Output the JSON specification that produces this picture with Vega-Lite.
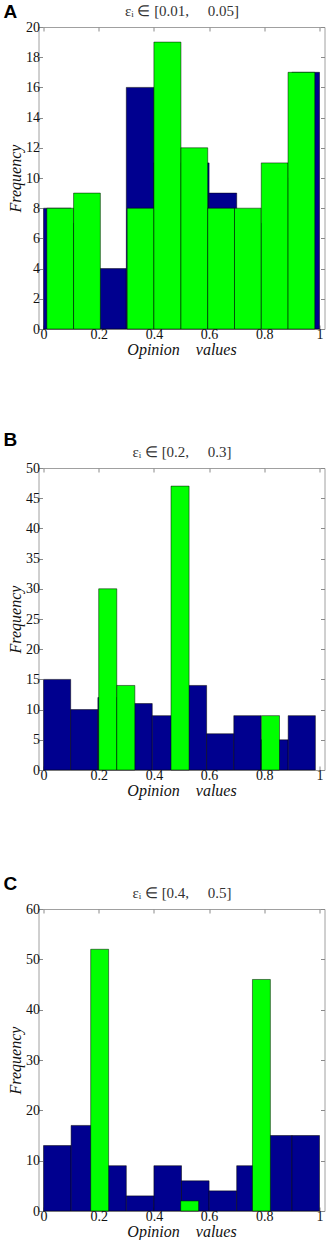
{
  "$schema": "https://vega.github.io/schema/vega-lite/v6.json",
  "background": "white",
  "padding": {"left": 2.5, "top": 2, "right": 0, "bottom": 0},
  "bounds": "flush",
  "spacing": 139,
  "config": {
    "view": {"stroke": "#a0a0a0", "strokeWidth": 1},
    "font": "Liberation Serif",
    "axis": {
      "domain": false, "grid": false,
      "tickSize": -4, "tickColor": "#8a8a8a", "tickWidth": 1,
      "labelFont": "Liberation Serif", "labelFontSize": 14, "labelColor": "#111",
      "labelPadding": 3,
      "titleFont": "Liberation Serif", "titleFontStyle": "italic", "titleFontWeight": "normal",
      "titleFontSize": 16, "titleColor": "#111"
    },
    "title": {"font": "Liberation Sans", "fontSize": 19, "fontWeight": "bold", "color": "#000", "anchor": "start", "frame": "bounds"}
  },
  "datasets": {
    "blueA": [
      {"x0": 0.0, "x1": 0.1, "count": 8}, {"x0": 0.1, "x1": 0.2, "count": 7},
      {"x0": 0.2, "x1": 0.3, "count": 4}, {"x0": 0.3, "x1": 0.4, "count": 16},
      {"x0": 0.4, "x1": 0.5, "count": 11}, {"x0": 0.5, "x1": 0.6, "count": 11},
      {"x0": 0.6, "x1": 0.7, "count": 9}, {"x0": 0.7, "x1": 0.8, "count": 7},
      {"x0": 0.8, "x1": 0.9, "count": 10}, {"x0": 0.9, "x1": 1.0, "count": 17}
    ],
    "greenA": [
      {"x0": 0.012, "x1": 0.109, "count": 8}, {"x0": 0.109, "x1": 0.206, "count": 9},
      {"x0": 0.303, "x1": 0.4, "count": 8}, {"x0": 0.4, "x1": 0.498, "count": 19},
      {"x0": 0.498, "x1": 0.595, "count": 12}, {"x0": 0.595, "x1": 0.692, "count": 8},
      {"x0": 0.692, "x1": 0.789, "count": 8}, {"x0": 0.789, "x1": 0.886, "count": 11},
      {"x0": 0.886, "x1": 0.983, "count": 17}
    ],
    "blueB": [
      {"x0": 0.0, "x1": 0.0985, "count": 15}, {"x0": 0.0985, "x1": 0.197, "count": 10},
      {"x0": 0.197, "x1": 0.2955, "count": 12}, {"x0": 0.2955, "x1": 0.394, "count": 11},
      {"x0": 0.394, "x1": 0.4925, "count": 9}, {"x0": 0.4925, "x1": 0.591, "count": 14},
      {"x0": 0.591, "x1": 0.6895, "count": 6}, {"x0": 0.6895, "x1": 0.788, "count": 9},
      {"x0": 0.788, "x1": 0.8865, "count": 5}, {"x0": 0.8865, "x1": 0.985, "count": 9}
    ],
    "greenB": [
      {"x0": 0.2, "x1": 0.2655, "count": 30}, {"x0": 0.2655, "x1": 0.331, "count": 14},
      {"x0": 0.462, "x1": 0.5275, "count": 47}, {"x0": 0.7895, "x1": 0.855, "count": 9}
    ],
    "blueC": [
      {"x0": 0.0, "x1": 0.1, "count": 13}, {"x0": 0.1, "x1": 0.2, "count": 17},
      {"x0": 0.2, "x1": 0.3, "count": 9}, {"x0": 0.3, "x1": 0.4, "count": 3},
      {"x0": 0.4, "x1": 0.5, "count": 9}, {"x0": 0.5, "x1": 0.6, "count": 6},
      {"x0": 0.6, "x1": 0.7, "count": 4}, {"x0": 0.7, "x1": 0.8, "count": 9},
      {"x0": 0.8, "x1": 0.9, "count": 15}, {"x0": 0.9, "x1": 1.0, "count": 15}
    ],
    "greenC": [
      {"x0": 0.171, "x1": 0.236, "count": 52}, {"x0": 0.497, "x1": 0.562, "count": 2},
      {"x0": 0.757, "x1": 0.822, "count": 46}
    ]
  },
  "vconcat": [
    {
      "width": 286, "height": 302,
      "title": {"text": "A", "dy": 23, "dx": -4},
      "layer": [
        {
          "data": {"name": "blueA"},
          "mark": {"type": "bar", "orient": "vertical", "fill": "#00008f", "stroke": "#000000", "strokeWidth": 0.5},
          "encoding": {
            "x": {"field": "x0", "type": "quantitative", "scale": {"domain": [0, 1], "nice": false, "zero": false},
                  "axis": {"orient": "bottom", "values": [0, 0.2, 0.4, 0.6, 0.8, 1], "format": "~g", "labelPadding": 2, "title": "Opinion\u00a0\u00a0\u00a0\u00a0values", "titlePadding": 0}},
            "x2": {"field": "x1"},
            "y": {"field": "count", "type": "quantitative", "scale": {"domain": [0, 20], "nice": false},
                  "axis": {"orient": "left", "values": [0, 2, 4, 6, 8, 10, 12, 14, 16, 18, 20], "title": "Frequency", "titlePadding": 2}},
            "y2": {"datum": 0}
          }
        },
        {
          "data": {"name": "greenA"},
          "mark": {"type": "bar", "orient": "vertical", "fill": "#00ff00", "stroke": "#000000", "strokeWidth": 0.5},
          "encoding": {
            "x": {"field": "x0", "type": "quantitative",
                  "axis": {"orient": "top", "labels": false, "values": [0, 0.2, 0.4, 0.6, 0.8, 1], "title": "εᵢ ∈ [0.01,\u00a0\u00a0\u00a0\u00a0\u00a00.05]", "titleFontStyle": "normal", "titleFontSize": 15, "titleColor": "#333", "titlePadding": 8.5}},
            "x2": {"field": "x1"},
            "y": {"field": "count", "type": "quantitative",
                  "axis": {"orient": "right", "labels": false, "values": [0, 2, 4, 6, 8, 10, 12, 14, 16, 18, 20], "title": null}},
            "y2": {"datum": 0}
          }
        }
      ],
      "resolve": {"axis": {"x": "independent", "y": "independent"}}
    },
    {
      "width": 286, "height": 302,
      "title": {"text": "B", "dy": 10, "dx": -4},
      "layer": [
        {
          "data": {"name": "blueB"},
          "mark": {"type": "bar", "orient": "vertical", "fill": "#00008f", "stroke": "#000000", "strokeWidth": 0.5},
          "encoding": {
            "x": {"field": "x0", "type": "quantitative", "scale": {"domain": [0, 1], "nice": false, "zero": false},
                  "axis": {"orient": "bottom", "values": [0, 0.2, 0.4, 0.6, 0.8, 1], "format": "~g", "labelPadding": 2, "title": "Opinion\u00a0\u00a0\u00a0\u00a0values", "titlePadding": 0}},
            "x2": {"field": "x1"},
            "y": {"field": "count", "type": "quantitative", "scale": {"domain": [0, 50], "nice": false},
                  "axis": {"orient": "left", "values": [0, 5, 10, 15, 20, 25, 30, 35, 40, 45, 50], "title": "Frequency", "titlePadding": 2}},
            "y2": {"datum": 0}
          }
        },
        {
          "data": {"name": "greenB"},
          "mark": {"type": "bar", "orient": "vertical", "fill": "#00ff00", "stroke": "#000000", "strokeWidth": 0.5},
          "encoding": {
            "x": {"field": "x0", "type": "quantitative",
                  "axis": {"orient": "top", "labels": false, "values": [0, 0.2, 0.4, 0.6, 0.8, 1], "title": "εᵢ ∈ [0.2,\u00a0\u00a0\u00a0\u00a0\u00a00.3]", "titleFontStyle": "normal", "titleFontSize": 15, "titleColor": "#333", "titlePadding": 8.5}},
            "x2": {"field": "x1"},
            "y": {"field": "count", "type": "quantitative",
                  "axis": {"orient": "right", "labels": false, "values": [0, 5, 10, 15, 20, 25, 30, 35, 40, 45, 50], "title": null}},
            "y2": {"datum": 0}
          }
        }
      ],
      "resolve": {"axis": {"x": "independent", "y": "independent"}}
    },
    {
      "width": 286, "height": 302,
      "title": {"text": "C", "dy": 13, "dx": -4},
      "layer": [
        {
          "data": {"name": "blueC"},
          "mark": {"type": "bar", "orient": "vertical", "fill": "#00008f", "stroke": "#000000", "strokeWidth": 0.5},
          "encoding": {
            "x": {"field": "x0", "type": "quantitative", "scale": {"domain": [0, 1], "nice": false, "zero": false},
                  "axis": {"orient": "bottom", "values": [0, 0.2, 0.4, 0.6, 0.8, 1], "format": "~g", "labelPadding": 2, "title": "Opinion\u00a0\u00a0\u00a0\u00a0values", "titlePadding": 0}},
            "x2": {"field": "x1"},
            "y": {"field": "count", "type": "quantitative", "scale": {"domain": [0, 60], "nice": false},
                  "axis": {"orient": "left", "values": [0, 10, 20, 30, 40, 50, 60], "title": "Frequency", "titlePadding": 2}},
            "y2": {"datum": 0}
          }
        },
        {
          "data": {"name": "greenC"},
          "mark": {"type": "bar", "orient": "vertical", "fill": "#00ff00", "stroke": "#000000", "strokeWidth": 0.5},
          "encoding": {
            "x": {"field": "x0", "type": "quantitative",
                  "axis": {"orient": "top", "labels": false, "values": [0, 0.2, 0.4, 0.6, 0.8, 1], "title": "εᵢ ∈ [0.4,\u00a0\u00a0\u00a0\u00a0\u00a00.5]", "titleFontStyle": "normal", "titleFontSize": 15, "titleColor": "#333", "titlePadding": 8.5}},
            "x2": {"field": "x1"},
            "y": {"field": "count", "type": "quantitative",
                  "axis": {"orient": "right", "labels": false, "values": [0, 10, 20, 30, 40, 50, 60], "title": null}},
            "y2": {"datum": 0}
          }
        }
      ],
      "resolve": {"axis": {"x": "independent", "y": "independent"}}
    }
  ]
}
